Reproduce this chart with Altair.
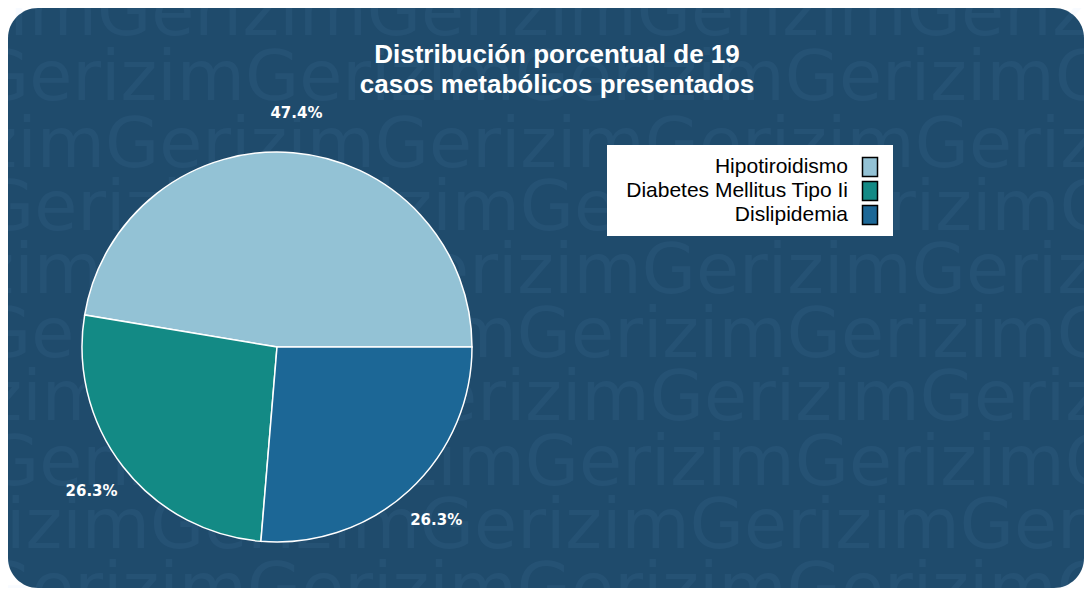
import math
import altair as alt
import pandas as pd

# ---- data ----
categorias = ["Hipotiroidismo", "Diabetes Mellitus Tipo Ii", "Dislipidemia"]
casos = [9, 5, 5]
etiquetas = ["47.4%", "26.3%", "26.3%"]
colores = ["#93c2d5", "#138a85", "#1c6796"]
titulo = "Distribución porcentual de 19\ncasos metabólicos presentados"

df = pd.DataFrame({"categoria": categorias, "casos": casos, "etiqueta": etiquetas})

W, H = 1076, 580
BG = "#1f4b6c"

# ---- decorative watermark rows ----
wm_base = [35, 100, 167, 230, 293, 357, 420, 485, 548, 612]
wm_off = [97, 245, 105, 250, 102, 247, 110, 255, 150, 247]
wm = pd.DataFrame({
    "x": [o - 270 - 8 for o in wm_off],
    "y": [b - 8 for b in wm_base],
    "t": ["Gerizim" * 6] * len(wm_base),
})
watermark = alt.Chart(wm).mark_text(
    font="DejaVu Sans", fontSize=70, fontWeight="normal", align="left",
    baseline="alphabetic", color="#8fc4ff", opacity=0.055,
).encode(
    x=alt.X("x:Q", scale=None, axis=None),
    y=alt.Y("y:Q", scale=None, axis=None),
    text="t:N",
)

color_scale = alt.Scale(domain=categorias, range=colores)
theta_enc = alt.Theta("casos:Q", stack=True,
                      scale=alt.Scale(range=[math.pi / 2, math.pi / 2 + 2 * math.pi]))
order_enc = alt.Order("orden:Q", sort="descending")

base = alt.Chart(df).transform_window(orden="row_number()")

pie = base.mark_arc(outerRadius=195, stroke="white", strokeWidth=1.5).encode(
    theta=theta_enc,
    color=alt.Color("categoria:N", scale=color_scale, legend=None),
    order=order_enc,
    x=alt.value(269),
    y=alt.value(339),
)

labels = base.mark_text(
    radius=235, font="DejaVu Sans", fontSize=15, fontWeight="bold", color="white",
    align="center", baseline="middle",
).encode(
    theta=theta_enc,
    order=order_enc,
    text="etiqueta:N",
    x=alt.value(269),
    y=alt.value(339),
)

title = alt.Chart(pd.DataFrame({"t": [titulo]})).mark_text(
    font="Liberation Sans", fontSize=26, fontWeight="bold", color="white",
    align="center", baseline="alphabetic", lineBreak="\n", lineHeight=30,
).encode(text="t:N", x=alt.value(549), y=alt.value(55))

# ---- legend (drawn manually: labels left, swatches right) ----
legend_box = alt.Chart(pd.DataFrame({"a": [0]})).mark_rect(fill="white").encode(
    x=alt.value(599), x2=alt.value(885), y=alt.value(137), y2=alt.value(228)
)
ly = alt.Y("categoria:N", scale=alt.Scale(type="point", domain=categorias, range=[159, 207], padding=0), axis=None)
legend_sw = alt.Chart(df).mark_point(
    shape="M-0.79,-1L0.79,-1L0.79,1L-0.79,1Z", size=361, filled=True,
    stroke="black", strokeWidth=1.5, opacity=1,
).encode(
    x=alt.value(862),
    y=ly,
    fill=alt.Color("categoria:N", scale=color_scale, legend=None),
)
legend_tx = alt.Chart(df).mark_text(
    font="Liberation Sans", fontSize=21, color="black", align="right", baseline="middle",
).encode(x=alt.value(840), y=ly, text="categoria:N")

chart = alt.layer(
    watermark, pie, labels, title, legend_box, legend_sw, legend_tx
).resolve_scale(
    x="independent", y="independent"
).properties(
    width=W, height=H,
    autosize=alt.AutoSizeParams(type="none"),
    padding=0,
    background="white",
).configure_view(
    fill=BG, cornerRadius=30, strokeWidth=0
)

chart.save("out.html", embed_options={"renderer": "svg", "actions": False})
